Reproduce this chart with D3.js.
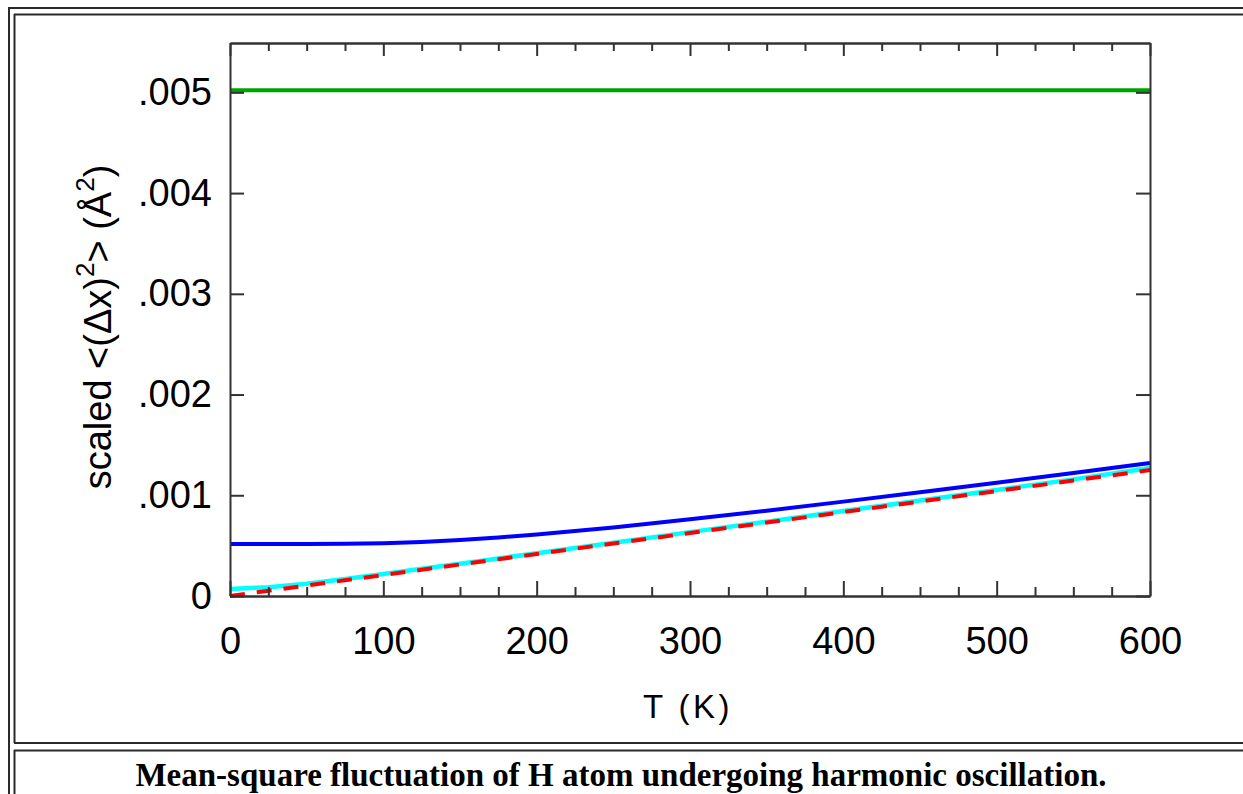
<!DOCTYPE html>
<html>
<head>
<meta charset="utf-8">
<script src="https://cdn.jsdelivr.net/npm/d3@7"></script>
<style>
  html, body { margin: 0; padding: 0; background: #fff; }
  svg { display: block; }
</style>
</head>
<body>
<svg id="chart" width="1243" height="794"></svg>
<script>
// Temperature grid (K)
const temps = [0, 25, 50, 75, 100, 125, 150, 175, 200, 250, 300, 350, 400, 450, 500, 550, 600];

// scaled <(Δx)^2> in Å^2 for each curve
const greenVals = [0.00502, 0.00502, 0.00502, 0.00502, 0.00502, 0.00502, 0.00502, 0.00502, 0.00502,
                   0.00502, 0.00502, 0.00502, 0.00502, 0.00502, 0.00502, 0.00502, 0.00502];
const blueVals  = [0.000516, 0.000516, 0.000516, 0.000518, 0.000524, 0.000536, 0.000556, 0.000581, 0.000611,
                   0.000681, 0.000761, 0.000847, 0.000937, 0.00103, 0.001125, 0.001222, 0.00132];
const cyanVals  = [0.00007, 0.000088, 0.000122, 0.000168, 0.000218, 0.00027, 0.000321, 0.000373, 0.000425,
                   0.000529, 0.000634, 0.000738, 0.000843, 0.000948, 0.001053, 0.001158, 0.00127];
const redVals   = [0, 0.000052, 0.000104, 0.000156, 0.000208, 0.00026, 0.000313, 0.000365, 0.000417,
                   0.000521, 0.000625, 0.000729, 0.000833, 0.000938, 0.001042, 0.001146, 0.00125];

// Axis ticks
const xMajorTicks = [0, 100, 200, 300, 400, 500, 600];
const xMinorTicks = [25, 50, 75, 125, 150, 175, 225, 250, 275, 325, 350, 375, 425, 450, 475, 525, 550, 575];
const yTicks = [0, 0.001, 0.002, 0.003, 0.004, 0.005];
const yTickLabels = ["0", ".001", ".002", ".003", ".004", ".005"];

const caption = "Mean-square fluctuation of H atom undergoing harmonic oscillation.";

const svg = d3.select("#chart");

// Page table borders
const border = svg.append("g").attr("fill", "none").attr("stroke", "#2a2a2a").attr("stroke-width", 2);
border.append("line").attr("x1", 9).attr("y1", 8).attr("x2", 9).attr("y2", 794);
border.append("line").attr("x1", 8).attr("y1", 8).attr("x2", 1243).attr("y2", 8);
border.append("line").attr("x1", 14.5).attr("y1", 14).attr("x2", 14.5).attr("y2", 743);
border.append("line").attr("x1", 14).attr("y1", 14.5).attr("x2", 1243).attr("y2", 14.5);
border.append("line").attr("x1", 14).attr("y1", 743).attr("x2", 1243).attr("y2", 743);
border.append("line").attr("x1", 14).attr("y1", 750.5).attr("x2", 1243).attr("y2", 750.5);
border.append("line").attr("x1", 14.5).attr("y1", 750).attr("x2", 14.5).attr("y2", 794);

// Plot scales
const x = d3.scaleLinear().domain([0, 600]).range([230, 1150]);
const y = d3.scaleLinear().domain([0, 0.00549]).range([596, 43]);

const plot = svg.append("g");

// Curves
const line = d3.line().x((d, i) => x(temps[i])).y(d => y(d));
plot.append("path").datum(greenVals).attr("d", line)
  .attr("fill", "none").attr("stroke", "#00a400").attr("stroke-width", 4);
plot.append("path").datum(blueVals).attr("d", line)
  .attr("fill", "none").attr("stroke", "#0000ff").attr("stroke-width", 4);
plot.append("path").datum(cyanVals).attr("d", line)
  .attr("fill", "none").attr("stroke", "#00ffff").attr("stroke-width", 4.5);
plot.append("path").datum(redVals).attr("d", line)
  .attr("fill", "none").attr("stroke", "#ff0000").attr("stroke-width", 4)
  .attr("stroke-dasharray", "15,12");

// Axes (ticks pointing into the frame)
const tickFont = "'Liberation Sans', Arial, Helvetica, sans-serif";

function styleAxis(g) {
  g.select(".domain").attr("stroke", "#333").attr("stroke-width", 2);
  g.selectAll(".tick line").attr("stroke", "#333").attr("stroke-width", 2);
  g.selectAll("text").attr("fill", "#000").attr("font-family", tickFont).attr("font-size", 38);
}

plot.append("g").attr("transform", "translate(0,596)")
  .call(d3.axisBottom(x).tickValues(xMinorTicks).tickSize(-9).tickSizeOuter(0).tickFormat(""))
  .call(styleAxis);
plot.append("g").attr("transform", "translate(0,596)")
  .call(d3.axisBottom(x).tickValues(xMajorTicks).tickSize(-15).tickSizeOuter(0).tickPadding(31)
    .tickFormat(d => String(d)))
  .call(styleAxis);

plot.append("g").attr("transform", "translate(0,43)")
  .call(d3.axisTop(x).tickValues(xMinorTicks).tickSize(-8).tickSizeOuter(0).tickFormat(""))
  .call(styleAxis);
plot.append("g").attr("transform", "translate(0,43)")
  .call(d3.axisTop(x).tickValues(xMajorTicks).tickSize(-13).tickSizeOuter(0).tickFormat(""))
  .call(styleAxis);

plot.append("g").attr("transform", "translate(230,0)")
  .call(d3.axisLeft(y).tickValues(yTicks).tickSize(-14).tickSizeOuter(0).tickPadding(18)
    .tickFormat((d, i) => yTickLabels[i]))
  .call(styleAxis);
plot.append("g").attr("transform", "translate(1150,0)")
  .call(d3.axisRight(y).tickValues(yTicks).tickSize(-14).tickSizeOuter(0).tickFormat(""))
  .call(styleAxis);

// Axis titles
svg.append("text")
  .attr("x", 688).attr("y", 718)
  .attr("text-anchor", "middle")
  .attr("font-family", tickFont).attr("font-size", 33)
  .attr("letter-spacing", 3.5)
  .text("T (K)");

const yTitle = svg.append("text")
  .attr("transform", "translate(111,327) rotate(-90)")
  .attr("text-anchor", "middle")
  .attr("font-family", tickFont).attr("font-size", 38);
yTitle.append("tspan").text("scaled <(Δx)");
yTitle.append("tspan").attr("font-size", 26).attr("dy", -17).text("2");
yTitle.append("tspan").attr("dy", 17).text("> (Å");
yTitle.append("tspan").attr("font-size", 26).attr("dy", -17).text("2");
yTitle.append("tspan").attr("dy", 17).text(")");

// Caption
svg.append("text")
  .attr("x", 621).attr("y", 786)
  .attr("text-anchor", "middle")
  .attr("font-family", "'Liberation Serif', 'Times New Roman', serif")
  .attr("font-weight", "bold").attr("font-size", 33)
  .text(caption);
</script>
</body>
</html>
